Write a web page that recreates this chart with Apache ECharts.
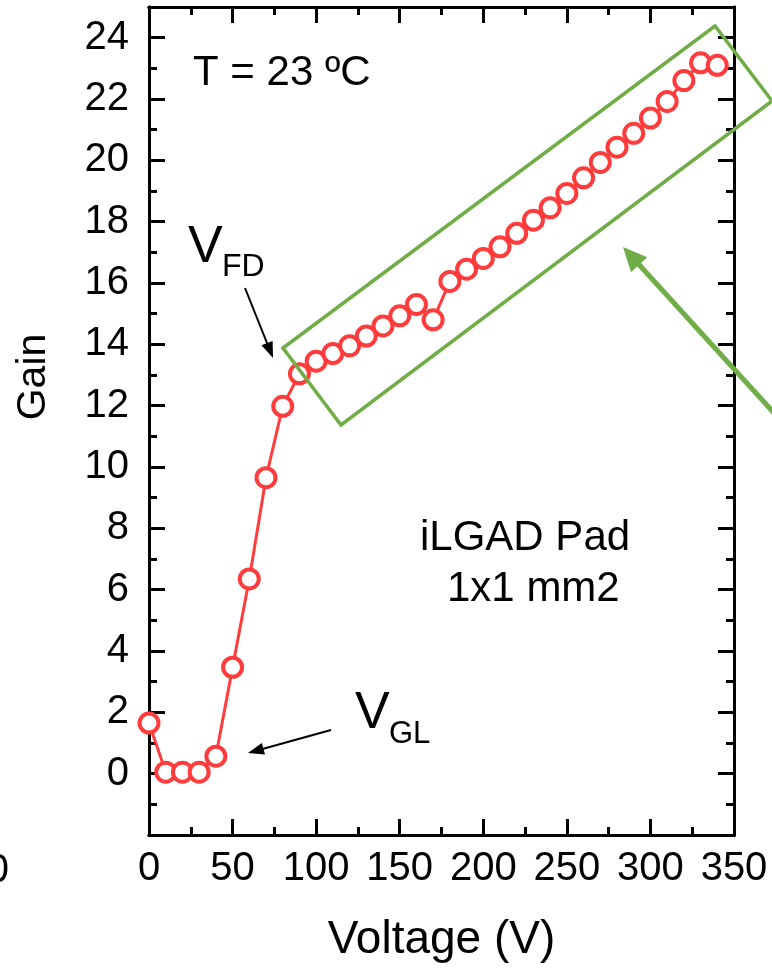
<!DOCTYPE html>
<html>
<head>
<meta charset="utf-8">
<script src="https://cdn.jsdelivr.net/npm/echarts@6/dist/echarts.min.js"></script>
<style>
  html, body { margin: 0; padding: 0; background: #fff; }
  #chart { width: 772px; height: 968px; }
</style>
</head>
<body>
<div id="chart"></div>
<script>
// gain vs bias voltage
const voltage = [0, 10, 20, 30, 40, 50, 60, 70, 80, 90, 100, 110, 120, 130, 140, 150, 160, 170,
  180, 190, 200, 210, 220, 230, 240, 250, 260, 270, 280, 290, 300, 310, 320, 330, 340]
const gain = [1.65, 0.05, 0.05, 0.05, 0.57, 3.47, 6.35, 9.65, 11.98, 13.04, 13.45, 13.7, 13.95, 14.27, 14.6, 14.93, 15.3, 14.8,
  16.05, 16.45, 16.8, 17.18, 17.62, 18.05, 18.45, 18.92, 19.43, 19.93, 20.43, 20.88, 21.38, 21.92, 22.6, 23.18, 23.1]

const xTicks = [0, 50, 100, 150, 200, 250, 300, 350]
const yTicks = [0, 2, 4, 6, 8, 10, 12, 14, 16, 18, 20, 22, 24]

const FONT = '"Liberation Sans", Arial, sans-serif'
const RED = '#ff3b3b'
const GREEN = '#70ad47'

const chart = echarts.init(document.getElementById('chart'))

// frame axes: major ticks + a second copy with the minor ticks
function xAx(pos, interval, len, labels) {
  return {
    type: 'value', position: pos, min: 0, max: 350, interval: interval,
    axisLine: { show: true, onZero: false, lineStyle: { color: '#000', width: 3 } },
    axisTick: { show: true, inside: true, length: len, lineStyle: { color: '#000', width: 3 } },
    axisLabel: labels ? {
      show: true, margin: 14, fontSize: 40, fontFamily: FONT, color: '#000',
      formatter: v => xTicks.includes(v) ? String(v) : ''
    } : { show: false },
    splitLine: { show: false }
  }
}
function yAx(pos, interval, len, labels) {
  return {
    type: 'value', position: pos, min: -2, max: 25, interval: interval,
    axisLine: { show: true, onZero: false, lineStyle: { color: '#000', width: 3 } },
    axisTick: { show: true, inside: true, length: len, lineStyle: { color: '#000', width: 3 } },
    axisLabel: labels ? {
      show: true, margin: 20, fontSize: 40, fontFamily: FONT, color: '#000',
      formatter: v => yTicks.includes(v) ? String(v) : ''
    } : { show: false },
    splitLine: { show: false }
  }
}

function arrowHead(x0, y0, x1, y1, len, half) {
  const dx = x1 - x0, dy = y1 - y0
  const d = Math.sqrt(dx * dx + dy * dy)
  const ux = dx / d, uy = dy / d
  const bx = x1 - ux * len, by = y1 - uy * len
  return [[x1, y1], [bx - uy * half, by + ux * half], [bx + uy * half, by - ux * half]]
}
function arrow(x0, y0, x1, y1, color, width, len, half) {
  const d = Math.hypot(x1 - x0, y1 - y0)
  const ex = x1 - (x1 - x0) / d * (len - 2), ey = y1 - (y1 - y0) / d * (len - 2)
  return [
    { type: 'line', shape: { x1: x0, y1: y0, x2: ex, y2: ey }, style: { stroke: color, lineWidth: width }, z: 20 },
    { type: 'polygon', shape: { points: arrowHead(x0, y0, x1, y1, len, half) }, style: { fill: color }, z: 20 }
  ]
}
function label(text, x, y, size, align) {
  return {
    type: 'text', x: x, y: y, z: 20,
    style: { text: text, font: size + 'px ' + FONT, fill: '#000', verticalAlign: 'middle', align: align || 'left' }
  }
}

const option = {
  animation: false,
  backgroundColor: '#fff',
  grid: { left: 149, right: 38, top: 7, bottom: 132 },
  xAxis: [
    Object.assign(xAx('bottom', 50, 16, true), {
      name: 'Voltage (V)', nameLocation: 'middle', nameGap: 82,
      nameTextStyle: { fontSize: 46, fontFamily: FONT, color: '#000' }
    }),
    xAx('bottom', 25, 8, false),
    xAx('top', 50, 16, false),
    xAx('top', 25, 8, false)
  ],
  yAxis: [
    yAx('left', 2, 16, true),
    yAx('left', 1, 8, false),
    yAx('right', 2, 16, false),
    yAx('right', 1, 8, false)
  ],
  series: [{
    type: 'line',
    xAxisIndex: 0,
    yAxisIndex: 0,
    data: voltage.map((v, i) => [v, gain[i]]),
    symbol: 'circle',
    symbolSize: 19,
    showAllSymbol: true,
    lineStyle: { color: RED, width: 3 },
    itemStyle: { color: '#fff', borderColor: RED, borderWidth: 4 },
    z: 5
  }],
  graphic: [
    // green box around the linear region
    {
      type: 'polygon', z: 15,
      shape: { points: [[283, 348], [715, 26], [772, 101], [341, 425]] },
      style: { fill: 'none', stroke: GREEN, lineWidth: 3.5 }
    },
    ...arrow(795, 436, 623, 247, GREEN, 5, 24, 11),
    ...arrow(245, 288, 273, 358, '#000', 2, 16, 6),
    ...arrow(331, 730, 248, 753, '#000', 2, 16, 6),
    label('T = 23 ºC', 193, 73, 42),
    label('V', 188, 248, 52),
    label('FD', 222, 267, 32),
    label('V', 355, 714, 52),
    label('GL', 389, 734, 31),
    label('iLGAD Pad', 420, 538, 42),
    label('1x1 mm2', 447, 589, 42),
    label('0', 9, 871, 40, 'right'),
    {
      type: 'text', x: 34, y: 377, rotation: Math.PI / 2, z: 20,
      style: { text: 'Gain', font: '41px ' + FONT, fill: '#000', align: 'center', verticalAlign: 'middle' }
    }
  ]
}

chart.setOption(option)
</script>
</body>
</html>
